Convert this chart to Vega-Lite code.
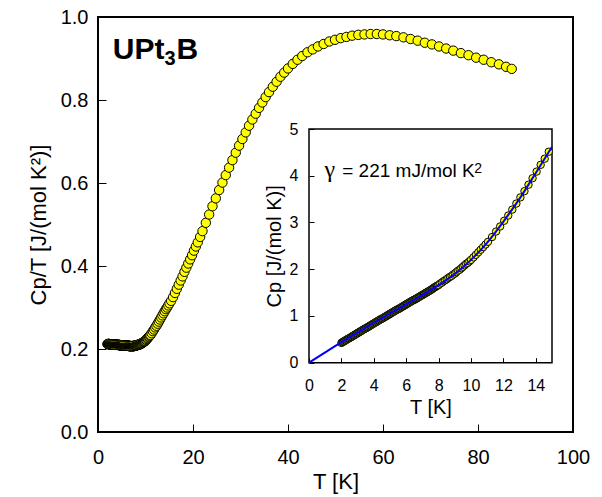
{
  "$schema": "https://vega.github.io/schema/vega-lite/v6.json",
  "autosize": "none",
  "width": 475,
  "height": 415,
  "padding": {"left": 98, "top": 17, "right": 29, "bottom": 65},
  "background": "white",
  "config": {
    "font": "Liberation Sans",
    "view": {"stroke": "black", "strokeWidth": 2},
    "axis": {"grid": false, "domain": false, "ticks": true, "tickColor": "black", "labelColor": "black", "titleColor": "black", "titleFontWeight": "normal", "labelFlush": false, "labelOverlap": false, "tickWidth": 1, "zindex": 1}
  },
  "datasets": {
    "cp": [
      {"T":2.00,"C":0.212,"Cp":0.424},{"T":2.05,"C":0.212,"Cp":0.435},{"T":2.10,"C":0.212,"Cp":0.445},{"T":2.15,"C":0.212,"Cp":0.456},{"T":2.20,"C":0.212,"Cp":0.466},
      {"T":2.25,"C":0.212,"Cp":0.477},{"T":2.30,"C":0.212,"Cp":0.488},{"T":2.35,"C":0.212,"Cp":0.498},{"T":2.40,"C":0.212,"Cp":0.509},{"T":2.45,"C":0.212,"Cp":0.519},
      {"T":2.50,"C":0.211,"Cp":0.528},{"T":2.55,"C":0.211,"Cp":0.538},{"T":2.60,"C":0.211,"Cp":0.549},{"T":2.65,"C":0.211,"Cp":0.559},{"T":2.70,"C":0.211,"Cp":0.570},
      {"T":2.75,"C":0.211,"Cp":0.580},{"T":2.80,"C":0.211,"Cp":0.591},{"T":2.85,"C":0.211,"Cp":0.601},{"T":2.90,"C":0.211,"Cp":0.612},{"T":2.95,"C":0.211,"Cp":0.622},
      {"T":3.00,"C":0.211,"Cp":0.633},{"T":3.05,"C":0.211,"Cp":0.644},{"T":3.10,"C":0.211,"Cp":0.654},{"T":3.15,"C":0.211,"Cp":0.665},{"T":3.20,"C":0.211,"Cp":0.675},
      {"T":3.25,"C":0.211,"Cp":0.686},{"T":3.30,"C":0.211,"Cp":0.696},{"T":3.35,"C":0.211,"Cp":0.707},{"T":3.40,"C":0.211,"Cp":0.717},{"T":3.45,"C":0.211,"Cp":0.728},
      {"T":3.50,"C":0.210,"Cp":0.735},{"T":3.55,"C":0.210,"Cp":0.746},{"T":3.60,"C":0.210,"Cp":0.756},{"T":3.65,"C":0.210,"Cp":0.767},{"T":3.70,"C":0.210,"Cp":0.777},
      {"T":3.75,"C":0.210,"Cp":0.788},{"T":3.80,"C":0.210,"Cp":0.798},{"T":3.85,"C":0.210,"Cp":0.809},{"T":3.90,"C":0.210,"Cp":0.819},{"T":3.95,"C":0.210,"Cp":0.830},
      {"T":4.00,"C":0.210,"Cp":0.840},{"T":4.05,"C":0.210,"Cp":0.851},{"T":4.10,"C":0.210,"Cp":0.861},{"T":4.15,"C":0.210,"Cp":0.872},{"T":4.20,"C":0.210,"Cp":0.882},
      {"T":4.25,"C":0.210,"Cp":0.893},{"T":4.30,"C":0.210,"Cp":0.903},{"T":4.35,"C":0.210,"Cp":0.914},{"T":4.40,"C":0.210,"Cp":0.924},{"T":4.45,"C":0.210,"Cp":0.935},
      {"T":4.50,"C":0.209,"Cp":0.941},{"T":4.55,"C":0.209,"Cp":0.951},{"T":4.60,"C":0.209,"Cp":0.961},{"T":4.65,"C":0.209,"Cp":0.972},{"T":4.70,"C":0.209,"Cp":0.982},
      {"T":4.75,"C":0.209,"Cp":0.993},{"T":4.80,"C":0.209,"Cp":1.003},{"T":4.85,"C":0.209,"Cp":1.014},{"T":4.90,"C":0.209,"Cp":1.024},{"T":4.95,"C":0.209,"Cp":1.035},
      {"T":5.00,"C":0.209,"Cp":1.045},{"T":5.05,"C":0.209,"Cp":1.055},{"T":5.10,"C":0.209,"Cp":1.066},{"T":5.15,"C":0.209,"Cp":1.076},{"T":5.20,"C":0.209,"Cp":1.087},
      {"T":5.25,"C":0.209,"Cp":1.097},{"T":5.30,"C":0.209,"Cp":1.108},{"T":5.35,"C":0.209,"Cp":1.118},{"T":5.40,"C":0.209,"Cp":1.129},{"T":5.45,"C":0.209,"Cp":1.139},
      {"T":5.50,"C":0.208,"Cp":1.144},{"T":5.55,"C":0.208,"Cp":1.154},{"T":5.60,"C":0.208,"Cp":1.165},{"T":5.65,"C":0.208,"Cp":1.175},{"T":5.70,"C":0.208,"Cp":1.186},
      {"T":5.75,"C":0.208,"Cp":1.196},{"T":5.80,"C":0.208,"Cp":1.206},{"T":5.85,"C":0.208,"Cp":1.217},{"T":5.90,"C":0.208,"Cp":1.227},{"T":5.95,"C":0.208,"Cp":1.238},
      {"T":6.00,"C":0.208,"Cp":1.248},{"T":6.05,"C":0.208,"Cp":1.258},{"T":6.10,"C":0.208,"Cp":1.269},{"T":6.15,"C":0.208,"Cp":1.279},{"T":6.20,"C":0.208,"Cp":1.290},
      {"T":6.25,"C":0.208,"Cp":1.300},{"T":6.30,"C":0.208,"Cp":1.310},{"T":6.35,"C":0.208,"Cp":1.321},{"T":6.40,"C":0.208,"Cp":1.331},{"T":6.45,"C":0.208,"Cp":1.342},
      {"T":6.50,"C":0.207,"Cp":1.346},{"T":6.55,"C":0.207,"Cp":1.356},{"T":6.60,"C":0.207,"Cp":1.366},{"T":6.65,"C":0.207,"Cp":1.377},{"T":6.70,"C":0.207,"Cp":1.387},
      {"T":6.75,"C":0.207,"Cp":1.397},{"T":6.80,"C":0.207,"Cp":1.408},{"T":6.85,"C":0.207,"Cp":1.418},{"T":6.90,"C":0.207,"Cp":1.428},{"T":6.95,"C":0.207,"Cp":1.439},
      {"T":7.00,"C":0.207,"Cp":1.449},{"T":7.05,"C":0.207,"Cp":1.459},{"T":7.10,"C":0.207,"Cp":1.470},{"T":7.15,"C":0.207,"Cp":1.480},{"T":7.20,"C":0.207,"Cp":1.490},
      {"T":7.25,"C":0.207,"Cp":1.501},{"T":7.30,"C":0.207,"Cp":1.511},{"T":7.35,"C":0.207,"Cp":1.521},{"T":7.40,"C":0.207,"Cp":1.532},{"T":7.45,"C":0.207,"Cp":1.542},
      {"T":7.50,"C":0.207,"Cp":1.553},{"T":7.55,"C":0.207,"Cp":1.563},{"T":7.60,"C":0.207,"Cp":1.573},{"T":7.65,"C":0.208,"Cp":1.591},{"T":7.70,"C":0.208,"Cp":1.602},
      {"T":7.75,"C":0.208,"Cp":1.612},{"T":7.80,"C":0.208,"Cp":1.622},{"T":7.85,"C":0.208,"Cp":1.633},{"T":7.90,"C":0.208,"Cp":1.643},{"T":7.95,"C":0.208,"Cp":1.654},
      {"T":8.00,"C":0.208,"Cp":1.664},{"T":8.1,"C":0.209,"Cp":1.693},{"T":8.2,"C":0.209,"Cp":1.714},{"T":8.3,"C":0.210,"Cp":1.743},{"T":8.4,"C":0.210,"Cp":1.764},
      {"T":8.5,"C":0.210,"Cp":1.785},{"T":8.6,"C":0.211,"Cp":1.815},{"T":8.7,"C":0.211,"Cp":1.836},{"T":8.8,"C":0.211,"Cp":1.857},{"T":8.9,"C":0.212,"Cp":1.887},
      {"T":9.0,"C":0.212,"Cp":1.908},{"T":9.1,"C":0.213,"Cp":1.938},{"T":9.2,"C":0.214,"Cp":1.969},{"T":9.3,"C":0.214,"Cp":1.990},{"T":9.4,"C":0.215,"Cp":2.021},
      {"T":9.5,"C":0.216,"Cp":2.052},{"T":9.6,"C":0.217,"Cp":2.083},{"T":9.7,"C":0.218,"Cp":2.115},{"T":9.8,"C":0.218,"Cp":2.136},{"T":9.9,"C":0.219,"Cp":2.168},
      {"T":10.0,"C":0.220,"Cp":2.200},{"T":10.15,"C":0.222,"Cp":2.253},{"T":10.30,"C":0.224,"Cp":2.307},{"T":10.45,"C":0.226,"Cp":2.362},{"T":10.60,"C":0.228,"Cp":2.417},
      {"T":10.75,"C":0.230,"Cp":2.473},{"T":10.90,"C":0.232,"Cp":2.529},{"T":11.05,"C":0.234,"Cp":2.586},{"T":11.30,"C":0.238,"Cp":2.689},{"T":11.55,"C":0.243,"Cp":2.807},
      {"T":11.80,"C":0.247,"Cp":2.915},{"T":12.05,"C":0.252,"Cp":3.037},{"T":12.30,"C":0.256,"Cp":3.149},{"T":12.55,"C":0.261,"Cp":3.276},{"T":12.80,"C":0.266,"Cp":3.405},
      {"T":13.05,"C":0.271,"Cp":3.537},{"T":13.30,"C":0.276,"Cp":3.671},{"T":13.55,"C":0.281,"Cp":3.808},{"T":13.80,"C":0.286,"Cp":3.947},{"T":14.05,"C":0.291,"Cp":4.089},
      {"T":14.30,"C":0.296,"Cp":4.233},{"T":14.55,"C":0.300,"Cp":4.365},{"T":14.80,"C":0.305,"Cp":4.514},
      {"T":15.05,"C":0.310},{"T":15.4,"C":0.316},{"T":15.8,"C":0.325},{"T":16.2,"C":0.335},{"T":16.6,"C":0.345},
      {"T":17.0,"C":0.355},{"T":17.4,"C":0.365},{"T":17.8,"C":0.375},{"T":18.2,"C":0.386},{"T":18.6,"C":0.396},
      {"T":19.0,"C":0.406},{"T":19.4,"C":0.416},{"T":19.8,"C":0.426},{"T":20.2,"C":0.437},{"T":20.6,"C":0.447},
      {"T":21.0,"C":0.457},{"T":21.5,"C":0.470},{"T":22.0,"C":0.484},{"T":22.7,"C":0.504},
      {"T":23.4,"C":0.524},{"T":24.1,"C":0.544},{"T":24.8,"C":0.563},{"T":25.5,"C":0.583},{"T":26.2,"C":0.601},
      {"T":26.9,"C":0.619},{"T":27.6,"C":0.637},{"T":28.3,"C":0.655},{"T":29.0,"C":0.673},{"T":29.7,"C":0.690},
      {"T":30.4,"C":0.706},{"T":31.1,"C":0.722},{"T":31.8,"C":0.738},{"T":32.5,"C":0.753},{"T":33.2,"C":0.767},
      {"T":33.9,"C":0.781},{"T":34.6,"C":0.794},{"T":35.3,"C":0.807},{"T":36.0,"C":0.819},{"T":36.8,"C":0.832},
      {"T":37.6,"C":0.844},{"T":38.4,"C":0.856},{"T":39.2,"C":0.866},{"T":40.0,"C":0.876},{"T":41.0,"C":0.887},
      {"T":42.0,"C":0.897},{"T":43.0,"C":0.906},{"T":44.1,"C":0.915},{"T":45.2,"C":0.922},{"T":46.3,"C":0.929},
      {"T":47.5,"C":0.935},{"T":48.7,"C":0.941},{"T":49.9,"C":0.945},{"T":51.1,"C":0.949},{"T":52.3,"C":0.952},
      {"T":53.5,"C":0.955},{"T":54.8,"C":0.957},{"T":56.1,"C":0.958},{"T":57.4,"C":0.959},{"T":58.7,"C":0.959},
      {"T":60.0,"C":0.958},{"T":61.4,"C":0.956},{"T":62.8,"C":0.954},{"T":64.3,"C":0.951},{"T":65.8,"C":0.947},
      {"T":67.3,"C":0.943},{"T":68.8,"C":0.938},{"T":70.3,"C":0.934},{"T":71.8,"C":0.929},{"T":73.3,"C":0.924},
      {"T":74.8,"C":0.919},{"T":76.4,"C":0.913},{"T":78.0,"C":0.908},{"T":79.6,"C":0.902},{"T":81.2,"C":0.897},
      {"T":82.8,"C":0.891},{"T":84.4,"C":0.886},{"T":85.9,"C":0.880},{"T":87.1,"C":0.875}
    ],
    "fit": [
      {"T":0,"Cp":0},{"T":1,"Cp":0.221},{"T":2,"Cp":0.440},{"T":3,"Cp":0.650},{"T":4,"Cp":0.855},
      {"T":5,"Cp":1.055},{"T":6,"Cp":1.250},{"T":7,"Cp":1.450},{"T":8,"Cp":1.660},{"T":9,"Cp":1.900},
      {"T":10,"Cp":2.200},{"T":11,"Cp":2.570},{"T":12,"Cp":3.020},{"T":13,"Cp":3.510},{"T":14,"Cp":4.060},{"T":15,"Cp":4.620}
    ]
  },
  "layer": [
    {
      "layer": [
        {
          "data": {"name": "cp"},
          "mark": {"type": "point", "shape": "circle", "filled": true, "fill": "#ffff00", "stroke": "black", "strokeWidth": 1, "size": 88, "opacity": 1},
          "encoding": {
            "x": {"field": "T", "type": "quantitative", "scale": {"domain": [0, 100], "nice": false},
              "axis": {"orient": "bottom", "values": [0, 20, 40, 60, 80, 100], "tickSize": -8, "labelPadding": 23, "labelFontSize": 20, "title": "T [K]", "titleFontSize": 22, "titlePadding": 4}},
            "y": {"field": "C", "type": "quantitative", "scale": {"domain": [0, 1], "nice": false, "zero": false},
              "axis": {"orient": "left", "values": [0, 0.2, 0.4, 0.6, 0.8, 1.0], "format": ".1f", "tickSize": -8, "labelPadding": 18, "labelFontSize": 20, "title": "Cp/T [J/(mol K²)]", "titleFontSize": 22, "titlePadding": 10}}
          }
        },
        {
          "data": {"values": [{}]},
          "mark": {"type": "text", "text": "UPt", "fontSize": 30, "fontWeight": "bold", "align": "left", "baseline": "alphabetic", "color": "black"},
          "encoding": {"x": {"datum": 3.1, "type": "quantitative"}, "y": {"datum": 0.9, "type": "quantitative"}}
        },
        {
          "data": {"values": [{}]},
          "mark": {"type": "text", "text": "3", "fontSize": 20, "fontWeight": "bold", "align": "left", "baseline": "alphabetic", "color": "black"},
          "encoding": {"x": {"datum": 14.0, "type": "quantitative"}, "y": {"datum": 0.884, "type": "quantitative"}}
        },
        {
          "data": {"values": [{}]},
          "mark": {"type": "text", "text": "B", "fontSize": 30, "fontWeight": "bold", "align": "left", "baseline": "alphabetic", "color": "black"},
          "encoding": {"x": {"datum": 16.5, "type": "quantitative"}, "y": {"datum": 0.9, "type": "quantitative"}}
        }
      ]
    },
    {
      "layer": [
        {
          "data": {"values": [{}]},
          "mark": {"type": "rect", "fill": "white", "fillOpacity": 0, "stroke": "black", "strokeWidth": 1.5},
          "encoding": {
            "x": {"datum": 0, "type": "quantitative", "scale": {"domain": [0, 15], "range": [211, 454], "nice": false},
              "axis": {"orient": "bottom", "offset": -69.3, "values": [0, 2, 4, 6, 8, 10, 12, 14], "tickSize": -5, "labelPadding": 20, "labelFontSize": 16, "title": "T [K]", "titleFontSize": 20, "titlePadding": 4}},
            "x2": {"datum": 15},
            "y": {"datum": 0, "type": "quantitative", "scale": {"domain": [0, 5], "range": [345.7, 112], "nice": false},
              "axis": {"orient": "left", "offset": -211, "values": [0, 1, 2, 3, 4, 5], "format": "d", "tickSize": -5, "labelPadding": 16, "labelFontSize": 16, "title": "Cp [J/(mol K)]", "titleFontSize": 20, "titlePadding": 5}},
            "y2": {"datum": 5}
          }
        },
        {
          "data": {"name": "cp"},
          "transform": [{"filter": "isValid(datum.Cp)"}],
          "mark": {"type": "point", "shape": "circle", "filled": true, "fill": "#ffff00", "stroke": "black", "strokeWidth": 1, "size": 55, "opacity": 1},
          "encoding": {
            "x": {"field": "T", "type": "quantitative"},
            "y": {"field": "Cp", "type": "quantitative"}
          }
        },
        {
          "data": {"name": "fit"},
          "mark": {"type": "line", "color": "#0000ff", "strokeWidth": 2, "interpolate": "monotone"},
          "encoding": {
            "x": {"field": "T", "type": "quantitative"},
            "y": {"field": "Cp", "type": "quantitative"}
          }
        },
        {
          "data": {"values": [{}]},
          "mark": {"type": "text", "text": "γ", "font": "Liberation Serif", "fontSize": 24, "align": "left", "baseline": "alphabetic", "color": "black"},
          "encoding": {"x": {"datum": 0.95, "type": "quantitative"}, "y": {"datum": 3.98, "type": "quantitative"}}
        },
        {
          "data": {"values": [{}]},
          "mark": {"type": "text", "text": "= 221 mJ/mol K", "fontSize": 19, "align": "left", "baseline": "alphabetic", "color": "black"},
          "encoding": {"x": {"datum": 2.05, "type": "quantitative"}, "y": {"datum": 3.98, "type": "quantitative"}}
        },
        {
          "data": {"values": [{}]},
          "mark": {"type": "text", "text": "2", "fontSize": 14, "align": "left", "baseline": "alphabetic", "color": "black"},
          "encoding": {"x": {"datum": 10.2, "type": "quantitative"}, "y": {"datum": 4.06, "type": "quantitative"}}
        }
      ]
    }
  ],
  "resolve": {"scale": {"x": "independent", "y": "independent"}, "axis": {"x": "independent", "y": "independent"}}
}
